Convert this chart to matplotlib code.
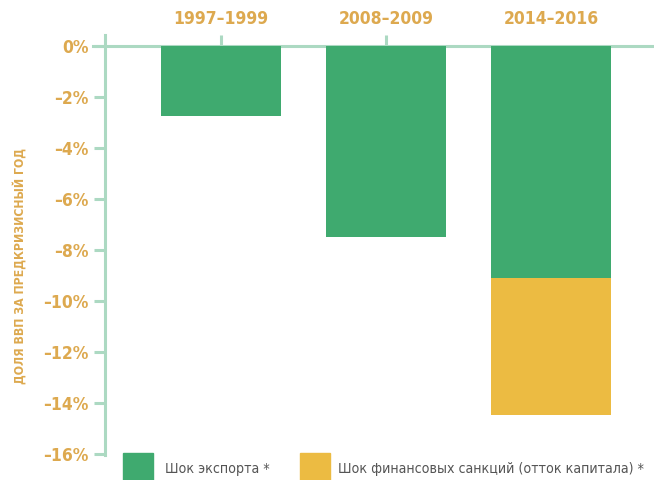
import numpy as np
import matplotlib
matplotlib.use("Agg")
import matplotlib.pyplot as plt
from matplotlib.patches import Rectangle
from matplotlib.transforms import blended_transform_factory

periods = ["1997–1999", "2008–2009", "2014–2016"]
export_shock = [-2.75, -7.5, -9.1]
finance_shock = [0.0, 0.0, -5.4]
yticks = [0, -2, -4, -6, -8, -10, -12, -14, -16]
legend_labels = ["Шок экспорта *", "Шок финансовых санкций (отток капитала) *"]

green = "#3FAA6F"
yellow = "#ECBB42"
gold = "#DDA94F"
line_c = "#ACD9C2"
fam = ["DejaVu Sans"]
st = "condensed"

fig = plt.figure(figsize=(6.54, 4.80), dpi=100)
ax = fig.add_axes([105 / 654, 25 / 480, 549 / 654, 420 / 480])

x = np.arange(len(periods))
ax.bar(x, export_shock, width=0.727, color=green, zorder=2)
ax.bar(x, finance_shock, width=0.727, bottom=export_shock, color=yellow, zorder=2)

ax.set_xlim(-0.703, 2.624)
ax.set_ylim(-16.05, 0.43)

for s in ["top", "right", "bottom"]:
    ax.spines[s].set_visible(False)
ax.spines["left"].set_color(line_c)
ax.spines["left"].set_linewidth(2.2)
ax.axhline(0, color=line_c, lw=2.2, zorder=1, xmin=-0.022, clip_on=False)
ax.vlines(x[:2], 0, 0.43, color=line_c, lw=2.2, zorder=1)

ax.set_yticks(yticks)
ax.set_yticklabels([f"{v}%".replace("-", "–") for v in yticks])
ax.tick_params(axis="y", colors=line_c, length=8, width=2.2, pad=4)
for t in ax.get_yticklabels():
    t.set_color(gold)
    t.set_fontsize(12.5)
    t.set_fontweight("bold")
    t.set_family(fam)
    t.set_fontstretch(st)

ax.set_xticks([])
top_tr = blended_transform_factory(ax.transData, fig.transFigure)
for xi, p in zip(x, periods):
    ax.text(xi, 1 - 19 / 480, p, transform=top_tr, ha="center", va="center",
            color=gold, fontsize=12.5, fontweight="bold", family=fam, fontstretch=st)

fig.text(20 / 654, 1 - 266 / 480, "ДОЛЯ ВВП ЗА ПРЕДКРИЗИСНЫЙ ГОД", rotation=90,
         ha="center", va="center", color=gold, fontsize=8.8, fontweight="bold",
         family=fam, fontstretch=st)

# legend
for lx, tx, col, lab in [(123, 165, green, legend_labels[0]), (300, 338, yellow, legend_labels[1])]:
    fig.patches.append(Rectangle((lx / 654, 0), 30 / 654, 27 / 480, transform=fig.transFigure,
                                 color=col, figure=fig))
    fig.text(tx / 654, 1 - 469 / 480, lab, ha="left", va="center", color="#555555",
             fontsize=10.2, family=fam, fontstretch=st)

fig.savefig("out.png", dpi=100)
